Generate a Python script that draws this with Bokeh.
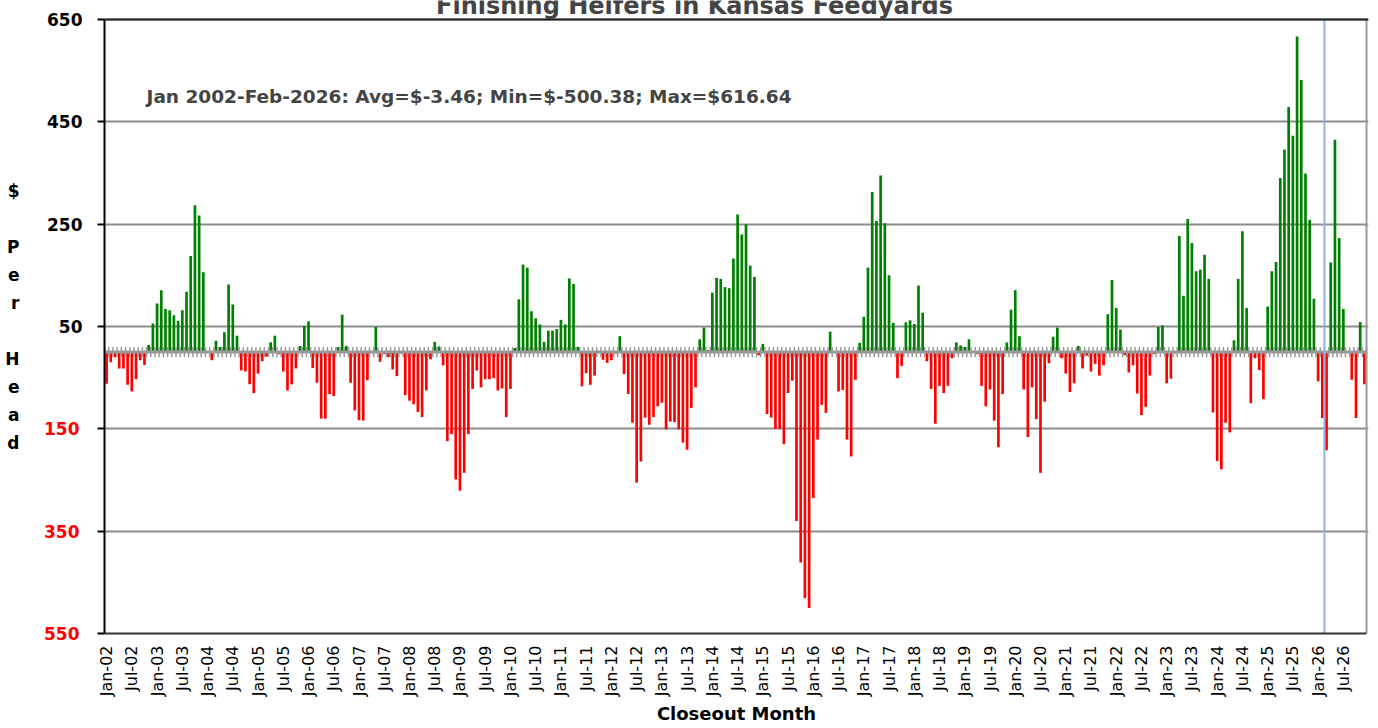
import math
from bokeh.plotting import figure
from bokeh.models import Range1d, FixedTicker, Label, Span, ColumnDataSource, LinearAxis
from bokeh.embed import file_html
from bokeh.resources import INLINE

# ---------------- data ----------------
years = list(range(2002, 2027))
month_names = ["Jan", "Feb", "Mar", "Apr", "May", "Jun",
               "Jul", "Aug", "Sep", "Oct", "Nov", "Dec"]
month_labels = [f"{m}-{y % 100:02d}" for y in years for m in month_names]

v2002 = [-62, -20, -10, -32, -32, -64, -77, -53, -16, -25, 14, 56]
v2003 = [95, 121, 84, 82, 72, 61, 82, 118, 188, 287, 267, 156]
v2004 = [2, -16, 22, 10, 39, 132, 93, 32, -36, -38, -63, -80]
v2005 = [-42, -18, -9, 19, 32, -4, -38, -75, -63, -32, 12, 51]
v2006 = [60, -31, -60, -130, -130, -82, -86, 10, 73, 12, -60, -114]
v2007 = [-133, -134, -55, 2, 49, -19, -4, -10, -34, -47, -3, -84]
v2008 = [-95, -102, -117, -127, -75, -14, 20, 11, -26, -174, -160, -249]
v2009 = [-271, -236, -160, -72, -36, -69, -53, -53, -51, -75, -71, -127]
v2010 = [-72, 8, 103, 171, 165, 80, 66, 54, 20, 42, 42, 45]
v2011 = [63, 54, 144, 133, 10, -67, -41, -64, -46, -2, -15, -21]
v2012 = [-16, -3, 31, -43, -82, -138, -255, -214, -128, -142, -127, -106]
v2013 = [-99, -151, -136, -137, -151, -177, -191, -109, -69, 25, 48, 4]
v2014 = [116, 145, 143, 127, 125, 183, 269, 230, 250, 169, 147, -6]
v2015 = [16, -121, -128, -150, -150, -180, -80, -56, -330, -411, -481, -500.38]
v2016 = [-285, -171, -103, -119, 40, 2, -77, -74, -171, -204, -54, 18]
v2017 = [69, 165, 313, 256, 345, 252, 150, 57, -51, -27, 58, 62]
v2018 = [55, 130, 77, -18, -72, -140, -66, -80, -66, -12, 19, 13]
v2019 = [10, 25, 2, -4, -66, -106, -73, -134, -186, -82, 19, 83]
v2020 = [121, 31, -73, -166, -69, -131, -236, -97, -22, 30, 48, -12]
v2021 = [-42, -78, -61, 12, -32, -7, -38, -23, -46, -26, 74, 141]
v2022 = [86, 44, -6, -40, -26, -81, -123, -107, -46, -4, 49, 52]
v2023 = [-61, -52, -3, 227, 110, 260, 213, 158, 161, 190, 143, -118]
v2024 = [-213, -229, -138, -157, 23, 143, 236, 86, -100, -12, -35, -92]
v2025 = [89, 158, 176, 340, 396, 479, 423, 616.64, 532, 349, 258, 104]
v2026 = [-57, -129, -192, 175, 415, 223, 84, 2, -54, -129, 59, -63]

values = (v2002 + v2003 + v2004 + v2005 + v2006 + v2007 + v2008 + v2009 + v2010
          + v2011 + v2012 + v2013 + v2014 + v2015 + v2016 + v2017 + v2018 + v2019
          + v2020 + v2021 + v2022 + v2023 + v2024 + v2025 + v2026)

y_ticks = [-550, -350, -150, 50, 250, 450, 650]
y_tick_text = ["550", "350", "150", "50", "250", "450", "650"]
current_month_boundary = 290  # end of Feb-2026 actuals

title_text = "Finishing Heifers in Kansas Feedyards"
note_text = "Jan 2002-Feb-2026:  Avg=$-3.46; Min=$-500.38; Max=$616.64"
x_title = "Closeout Month"
y_title = "$\n\nP\ne\nr\n\nH\ne\na\nd"

# ---------------- geometry (figure pixels) ----------------
W, H = 1378, 728
FL, FR, FT, FB = 104, 1366, 19, 633      # plot-area edges
N = len(values)
Y0, Y1 = -550, 650
PPU = (FB - FT) / (Y1 - Y0)              # pixels per $ unit
Y_TOP = Y1 + FT / PPU                    # frame reaches the figure top
PX = (FR - FL) / N                       # pixels per month
X_END = N + 2 / PX                       # 2px of room for the right border line


def xd(px):
    return (px - FL) / PX


def yd(py):
    return Y_TOP - py / PPU


FONT = "DejaVu Sans"

src = ColumnDataSource(dict(
    x=[i + 0.5 for i in range(N)],
    top=values,
    color=["#008000" if v >= 0 else "#FF0000" for v in values],
))

p = figure(width=W, height=H, x_range=Range1d(0, X_END), y_range=Range1d(Y0, Y_TOP),
           output_backend="svg", toolbar_location=None,
           min_border_left=FL, min_border_right=W - FR - 2,
           min_border_top=0, min_border_bottom=H - FB)
p.background_fill_color = "white"
p.border_fill_color = "white"
p.outline_line_color = None

# grid
p.xgrid.visible = False
p.ygrid.ticker = FixedTicker(ticks=y_ticks)
p.ygrid.grid_line_color = "#8c8c8c"
p.ygrid.grid_line_width = 2

# bars
p.vbar(x="x", top="top", bottom=0, width=0.64, source=src,
       fill_color="color", line_color=None)

# category axis comb at zero
p.segment(x0=[0], y0=[0], x1=[N], y1=[0], line_color="#9a9a9a", line_width=3)
bx = list(range(N + 1))
p.segment(x0=bx, y0=[-10] * len(bx), x1=bx, y1=[10] * len(bx),
          line_color="#9a9a9a", line_width=1.5)

# current-month marker and right border
p.segment(x0=[current_month_boundary], y0=[Y0], x1=[current_month_boundary], y1=[Y1],
          line_color="#8db3e2", line_width=2)
p.segment(x0=[N], y0=[Y0], x1=[N], y1=[Y1], line_color="#9a9a9a", line_width=2)

# top border
p.add_layout(Span(location=Y1, dimension="width", line_color="#222222", line_width=2))

# y axis (inner): black labels and ticks
ya = p.yaxis[0]
ya.ticker = FixedTicker(ticks=y_ticks)
ya.bounds = (Y0, Y1)
ya.major_label_overrides = {t: (s if t > 0 else "") for t, s in zip(y_ticks, y_tick_text)}
ya.major_label_text_font = FONT
ya.major_label_text_font_style = "bold"
ya.major_label_text_font_size = "17px"
ya.major_label_text_color = "black"
ya.axis_line_color = "black"
ya.axis_line_width = 2
ya.major_tick_line_color = "black"
ya.major_tick_line_width = 2
ya.major_tick_out = 7
ya.major_tick_in = 0
ya.minor_tick_line_color = None
ya.major_label_standoff = 15

# y axis (second): red labels for the negative ticks
neg_ticks = [t for t in y_ticks if t < 0]
yb = LinearAxis(ticker=FixedTicker(ticks=neg_ticks),
                major_label_overrides={t: s for t, s in zip(y_ticks, y_tick_text) if t < 0},
                major_label_text_font=FONT, major_label_text_font_style="bold",
                major_label_text_font_size="17px", major_label_text_color="#FF0000",
                axis_line_color=None, major_tick_line_color=None,
                minor_tick_line_color=None, major_tick_out=0, major_tick_in=0,
                major_label_standoff=-35)
p.add_layout(yb, "left")

# y axis (outermost): stacked axis title only
yc = LinearAxis(ticker=FixedTicker(ticks=[]), bounds=(Y0, 646),
                axis_line_color=None, major_tick_line_color=None,
                minor_tick_line_color=None, major_tick_out=0, major_tick_in=0,
                major_label_standoff=0, major_label_text_font_size="0px",
                axis_label=y_title, axis_label_text_font=FONT,
                axis_label_text_font_style="bold", axis_label_text_font_size="17px",
                axis_label_text_color="black", axis_label_standoff=22)
try:
    yc.axis_label_orientation = "horizontal"
except Exception:
    pass
try:
    yc.axis_label_text_line_height = 1.40
    yc.axis_label_text_align = "center"
except Exception:
    pass
p.add_layout(yc, "left")

# x axis: month labels
xa = p.xaxis[0]
tick_pos = [i + 0.5 for i in range(0, N, 6)]
xa.ticker = FixedTicker(ticks=tick_pos)
xa.bounds = (0, N)
xa.major_label_overrides = {i + 0.5: month_labels[i] for i in range(0, N, 6)}
xa.major_label_orientation = math.pi / 2
xa.major_label_text_font = FONT
xa.major_label_text_font_size = "16px"
xa.major_label_text_color = "black"
xa.axis_line_color = "#333333"
xa.axis_line_width = 2
xa.major_tick_out = 0
xa.major_tick_in = 0
xa.minor_tick_line_color = None
xa.major_label_standoff = 12

# x axis title (second axis, centred where the reference puts it)
cx = xd(748)
xc = LinearAxis(ticker=FixedTicker(ticks=[]), bounds=(2 * cx - N, N),
                axis_line_color=None, major_tick_line_color=None,
                minor_tick_line_color=None, major_tick_out=0, major_tick_in=0,
                major_label_standoff=0, major_label_text_font_size="0px",
                axis_label=x_title, axis_label_text_font=FONT,
                axis_label_text_font_style="bold", axis_label_text_font_size="18px",
                axis_label_text_color="black", axis_label_standoff=3)
p.add_layout(xc, "below")

# texts inside the frame
p.add_layout(Label(x=xd(694), y=yd(5), text=title_text, text_font=FONT,
                   text_font_style="bold", text_font_size="24px",
                   text_align="center", text_baseline="alphabetic"))
p.add_layout(Label(x=xd(146), y=yd(96), text=note_text, text_font=FONT,
                   text_font_style="bold", text_font_size="18.5px",
                   text_align="left", text_baseline="middle"))

open("out.html", "w").write(file_html(p, INLINE))
